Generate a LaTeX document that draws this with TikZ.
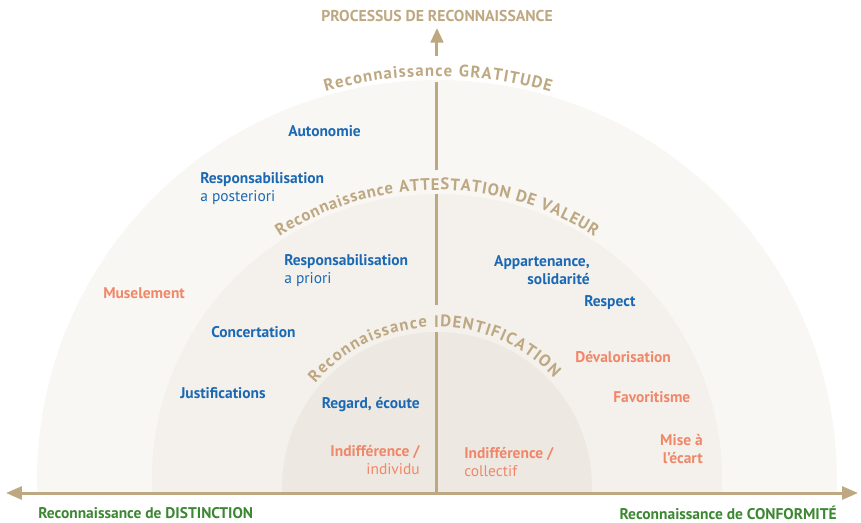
\documentclass[tikz,border=0pt]{standalone}
\usepackage{fontspec}
\setmainfont{PT Sans}
\usetikzlibrary{arrows.meta,decorations.text}

\definecolor{sable}{HTML}{BEA882}
\definecolor{bleu}{HTML}{1B69B4}
\definecolor{saumon}{HTML}{F08769}
\definecolor{vert}{HTML}{3C8732}
\definecolor{fondA}{HTML}{F9F7F3}
\definecolor{fondB}{HTML}{F4F1EC}
\definecolor{fondC}{HTML}{EDE9E2}

\tikzset{
  lbl/.style={font=\fontsize{11.6}{13.5}\selectfont\bfseries, text=bleu, inner sep=0pt},
  lblreg/.style={font=\fontsize{11.6}{13.5}\selectfont, text=bleu, inner sep=0pt},
  neg/.style={text=saumon},
  axe/.style={draw=sable, line width=2.25pt},
  arctxt/.style={decorate, decoration={text along path, text align=fit to path,
      text={|\color{sable}\bfseries\fontsize{12.5}{14}\selectfont|#1}}}
}

\begin{document}
\begin{tikzpicture}[x=0.75pt, y=0.75pt]
        \useasboundingbox (-437,-29) rectangle (424,493);

        \begin{scope}
                \clip (-440,0) rectangle (440,500);
                \fill[fondA] (0,13) circle (400);
                \fill[fondB] (0,14) circle (285);
                \fill[fondC] (0,6) circle (155);
        \end{scope}

        \coordinate (ouest) at (-431,0);
        \coordinate (est) at (421,0);
        \coordinate (base) at (0,0);
        \coordinate (haut1) at (0,161);
        \coordinate (bas2) at (0,188);
        \coordinate (haut2) at (0,299);
        \coordinate (bas3) at (0,323);
        \coordinate (haut3) at (0,411);
        \coordinate (bas4) at (0,437);
        \coordinate (pointe) at (0,465);

        \draw[axe, {Triangle[length=12pt,width=9.75pt]}-{Triangle[length=12pt,width=9.75pt]}] (ouest) -- (est);
        \draw[axe] (base) -- (haut1);
        \draw[axe] (bas2) -- (haut2);
        \draw[axe] (bas3) -- (haut3);
        \draw[axe, -{Triangle[length=11pt,width=9.5pt]}] (bas4) -- (pointe);

        \path[shift={(0,13)}, arctxt={Reconnaissance GRATITUDE}]
                (106:404) arc[start angle=106, end angle=73.7, radius=404];
        \path[shift={(0,14)}, arctxt={Reconnaissance ATTESTATION DE VALEUR}]
                (123:289) arc[start angle=123, end angle=57, radius=289];
        \path[shift={(0,6)}, arctxt={Reconnaissance IDENTIFICATION}]
                (139.5:160) arc[start angle=139.5, end angle=43, radius=160];

        \node[font=\fontsize{11.8}{13}\selectfont\bfseries, text=sable, inner sep=0pt] (processus) at (0,477) {PROCESSUS DE RECONNAISSANCE};

        \node[lbl, anchor=west] (autonomie) at (-149,362) {Autonomie};
        \node[lblreg, anchor=west, align=left] (respost) at (-237,304) {{\bfseries Responsabilisation}\\a posteriori};
        \node[lblreg, anchor=west, align=left] (respriori) at (-153,222.5) {{\bfseries Responsabilisation}\\a priori};
        \node[lbl, neg, anchor=west] (muselement) at (-334,200) {Muselement};
        \node[lbl, anchor=west] (concertation) at (-226,161) {Concertation};
        \node[lbl, anchor=west] (justif) at (-257,100) {Justifications};
        \node[lbl, anchor=east] (regard) at (-17,88) {Regard, écoute};
        \node[lblreg, neg, anchor=east, align=right] (indiffind) at (-17,32.5) {{\bfseries Indifférence /}\\individu};
        \node[lblreg, neg, anchor=west, align=left] (indiffcol) at (27,30.5) {{\bfseries Indifférence /}\\collectif};
        \node[lbl, anchor=east, align=right] (appart) at (153,222.5) {Appartenance,\\solidarité};
        \node[lbl, anchor=west] (respect) at (147,190) {Respect};
        \node[lbl, neg, anchor=west] (devalo) at (138,136) {Dévalorisation};
        \node[lbl, neg, anchor=west] (favor) at (176,96) {Favoritisme};
        \node[lbl, neg, anchor=east, align=right] (miseecart) at (266,44) {Mise à\\l’écart};

        \node[lbl, text=vert, anchor=west] (distinction) at (-399,-20) {Reconnaissance de DISTINCTION};
        \node[lbl, text=vert, anchor=east] (conformite) at (400,-20) {Reconnaissance de CONFORMITÉ};
\end{tikzpicture}
\end{document}
